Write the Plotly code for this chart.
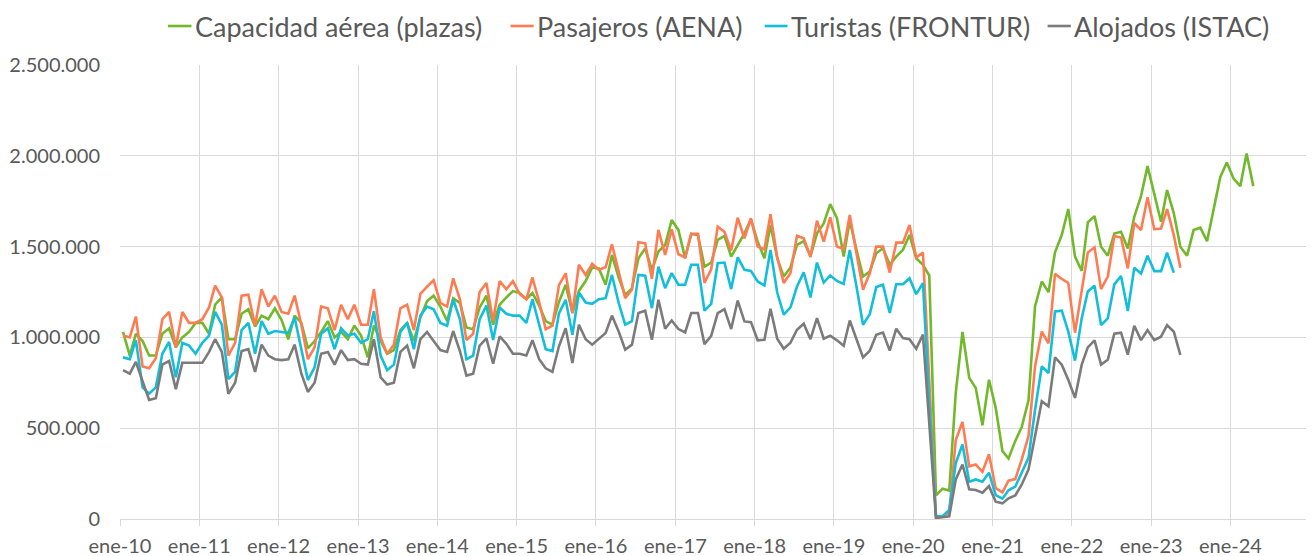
import pandas as pd
import plotly.graph_objects as go

# Monthly values in thousands, starting ene-2010
capacidad = [
    1030, 900, 1020, 980, 900, 900, 1020, 1050, 945, 1000, 1030, 1080,
    1080, 1020, 1180, 1220, 990, 990, 1130, 1155, 1060, 1120, 1100, 1160,
    1095, 990, 1120, 1080, 940, 980, 1030, 1090, 1000, 1030, 990, 1065,
    1010, 890, 1065, 980, 910, 930, 1040, 1080, 980, 1110, 1200, 1230,
    1170, 1090, 1215, 1190, 1055, 1045, 1165, 1230, 1070, 1180, 1220, 1255,
    1245, 1210, 1245, 1175, 1090, 1070, 1195, 1290, 1134, 1256, 1310, 1385,
    1380, 1290, 1454, 1330, 1234, 1270, 1436, 1490, 1372, 1473, 1509, 1646,
    1592, 1436, 1570, 1564, 1390, 1412, 1537, 1559, 1445, 1509, 1573, 1650,
    1527, 1436, 1619, 1436, 1335, 1385, 1510, 1530, 1447, 1573, 1628, 1734,
    1656, 1445, 1643, 1482, 1335, 1363, 1463, 1491, 1400, 1445, 1482, 1564,
    1436, 1400, 1341, 130, 167, 157, 694, 1030, 777, 722, 516, 767,
    612, 374, 333, 430, 507, 654, 1170, 1308, 1249, 1469, 1564, 1707,
    1445, 1366, 1634, 1668, 1499, 1450, 1572, 1582, 1490, 1664, 1778, 1943,
    1783, 1637, 1811, 1683, 1499, 1450, 1591, 1604, 1530, 1700, 1884, 1963,
    1875, 1833, 2013, 1833,
]
pasajeros = [
    1010, 1000, 1115, 840, 830, 885, 1100, 1140, 945, 1140, 1080, 1080,
    1100, 1165, 1285, 1220, 900, 970, 1230, 1235, 1065, 1265, 1170, 1230,
    1140, 1130, 1230, 1070, 880, 945, 1170, 1160, 1040, 1180, 1100, 1180,
    1070, 1070, 1265, 1000, 910, 960, 1160, 1180, 1040, 1240, 1280, 1315,
    1190, 1170, 1325, 1210, 985, 1020, 1250, 1300, 1090, 1310, 1265, 1310,
    1240, 1210, 1330, 1195, 1045, 1065, 1288, 1353, 1134, 1400, 1344, 1405,
    1372, 1386, 1513, 1363, 1216, 1262, 1524, 1518, 1322, 1592, 1454, 1595,
    1458, 1441, 1570, 1570, 1300, 1375, 1610, 1582, 1478, 1659, 1546, 1656,
    1500, 1485, 1678, 1441, 1300, 1355, 1560, 1546, 1443, 1643, 1527, 1661,
    1500, 1487, 1674, 1463, 1262, 1353, 1500, 1500, 1357, 1522, 1522, 1619,
    1440, 1467, 740, 10, 15, 35, 435, 535, 290, 300, 260, 357,
    170, 147, 211, 220, 328, 456, 840, 1032, 967, 1350, 1322, 1300,
    1026, 1262, 1467, 1496, 1266, 1335, 1558, 1550, 1380, 1630, 1591, 1771,
    1596, 1600, 1706, 1563, 1383,
]
turistas = [
    890, 880, 985, 725, 690, 725, 910, 975, 780, 970, 955, 910,
    970, 1010, 1140, 1070, 770, 810, 1040, 1080, 910, 1090, 1020, 1035,
    1030, 1025, 1110, 935, 765, 835, 1020, 1050, 935, 1050, 1010, 1020,
    970, 990, 1145, 900, 820, 850, 1030, 1080, 935, 1120, 1170, 1155,
    1080, 1065, 1210, 1100, 880, 900, 1100, 1175, 985, 1165, 1130, 1120,
    1120, 1080, 1210, 1070, 935, 925, 1132, 1207, 1015, 1247, 1192, 1185,
    1210, 1216, 1344, 1190, 1070, 1090, 1344, 1340, 1161, 1390, 1271, 1354,
    1290, 1290, 1400, 1400, 1147, 1185, 1408, 1412, 1266, 1441, 1372, 1366,
    1308, 1286, 1482, 1247, 1125, 1165, 1280, 1358, 1220, 1412, 1302, 1341,
    1311, 1295, 1482, 1280, 1070, 1128, 1277, 1290, 1134, 1293, 1293, 1326,
    1238, 1299, 640, 15, 15, 50, 308, 410, 205, 218, 205, 255,
    132, 112, 158, 178, 255, 337, 600, 840, 804, 1143, 1147, 1033,
    872, 1106, 1253, 1284, 1068, 1105, 1292, 1338, 1145, 1383, 1352, 1450,
    1365, 1365, 1466, 1356,
]
alojados = [
    820, 800, 865, 760, 655, 665, 850, 870, 715, 860, 860, 860,
    860, 920, 990, 920, 690, 750, 925, 935, 810, 960, 900, 880,
    875, 880, 960, 800, 700, 750, 910, 920, 850, 930, 875, 880,
    855, 850, 990, 780, 740, 750, 920, 955, 830, 990, 1030, 980,
    930, 920, 1035, 925, 790, 800, 955, 995, 855, 1005, 965, 910,
    910, 900, 985, 880, 830, 810, 951, 1051, 859, 1070, 990, 960,
    990, 1024, 1120, 1033, 932, 960, 1134, 1147, 987, 1207, 1048, 1093,
    1046, 1027, 1134, 1134, 963, 1008, 1134, 1156, 1046, 1203, 1088, 1084,
    984, 987, 1158, 993, 938, 971, 1042, 1075, 990, 1106, 993, 1009,
    984, 954, 1093, 993, 890, 927, 1015, 1027, 927, 1048, 996, 990,
    938, 1015, 500, 6, 10, 15, 218, 300, 163, 160, 145, 181,
    95, 86, 114, 130, 190, 273, 456, 648, 620, 890, 850, 767,
    667, 850, 945, 984, 850, 877, 1020, 1026, 905, 1064, 985, 1040,
    985, 1004, 1068, 1031, 903,
]

series_names = ["Capacidad aérea (plazas)", "Pasajeros (AENA)",
                "Turistas (FRONTUR)", "Alojados (ISTAC)"]
series_colors = ["#72B82B", "#FF7C52", "#12BEDB", "#7B7B7B"]

tick_dates = [f"{y}-01-01" for y in range(2010, 2026)]
tick_text = [f"ene-{y % 100:02d}" for y in range(2010, 2025)] + [""]

months = pd.date_range("2010-01-01", periods=len(capacidad), freq="MS") + pd.Timedelta(days=14)

font_family = "Lato, 'Open Sans', sans-serif"
text_color = "#595959"
grid_color = "#D9D9D9"

# The page body has an 8px default margin; lay out in screen pixels and shift.
OFF = 8
W, H = 1314, 556
PLOT_L, PLOT_R, PLOT_T, PLOT_B = 120, 1310, 65, 519   # screen pixels
ML, MT = PLOT_L - OFF, PLOT_T - OFF
MR = W - (PLOT_R - OFF)
MB = H - (PLOT_B - OFF)
PW, PH = PLOT_R - PLOT_L, PLOT_B - PLOT_T


def px_to_paper_x(px):
    return (px - PLOT_L) / PW


def px_to_paper_y(py):
    return (PLOT_B - py) / PH


fig = go.Figure()
for name, color, vals in zip(series_names, series_colors,
                             [capacidad, pasajeros, turistas, alojados]):
    fig.add_trace(go.Scatter(
        x=months[:len(vals)], y=[v * 1000 for v in vals],
        mode="lines", name=name, showlegend=False,
        line=dict(color=color, width=2.6),
    ))

# Legend drawn manually (short line + label), as in the reference
legend_line_px = [(168, 191.5), (510.5, 533.7), (764.7, 787.5), (1047.6, 1070.8)]
legend_y_px = 26
for name, color, (x0, x1) in zip(series_names, series_colors, legend_line_px):
    fig.add_shape(type="line", xref="paper", yref="paper",
                  x0=px_to_paper_x(x0), x1=px_to_paper_x(x1),
                  y0=px_to_paper_y(legend_y_px), y1=px_to_paper_y(legend_y_px),
                  line=dict(color=color, width=2.6))
    fig.add_annotation(text=name, xref="paper", yref="paper",
                       x=px_to_paper_x(x1 + 1.5), y=px_to_paper_y(legend_y_px),
                       xanchor="left", yanchor="middle", showarrow=False,
                       font=dict(size=27, color=text_color, family=font_family))

fig.update_layout(
    width=W, height=H,
    margin=dict(l=ML, r=MR, t=MT, b=MB, autoexpand=False),
    paper_bgcolor="white", plot_bgcolor="white",
    separators=",.",
    font=dict(family=font_family, color=text_color, size=20),
    showlegend=False,
    xaxis=dict(
        type="date", range=["2010-01-01", "2025-01-01"],
        tickmode="array", tickvals=tick_dates, ticktext=tick_text,
        showgrid=True, gridcolor=grid_color, gridwidth=1,
        showline=True, linecolor=grid_color, linewidth=1,
        ticks="outside", ticklen=6, tickcolor=grid_color,
        ticklabelstandoff=3,
        tickfont=dict(size=20, color=text_color),
        zeroline=False, automargin=False,
    ),
    yaxis=dict(
        range=[0, 2500000], tickmode="linear", tick0=0, dtick=500000,
        tickformat=",d",
        showgrid=True, gridcolor=grid_color, gridwidth=1,
        showline=False, zeroline=False,
        ticks="", ticklabelstandoff=19, automargin=False,
        tickfont=dict(size=20, color=text_color),
    ),
)

fig.write_html("out.html")
